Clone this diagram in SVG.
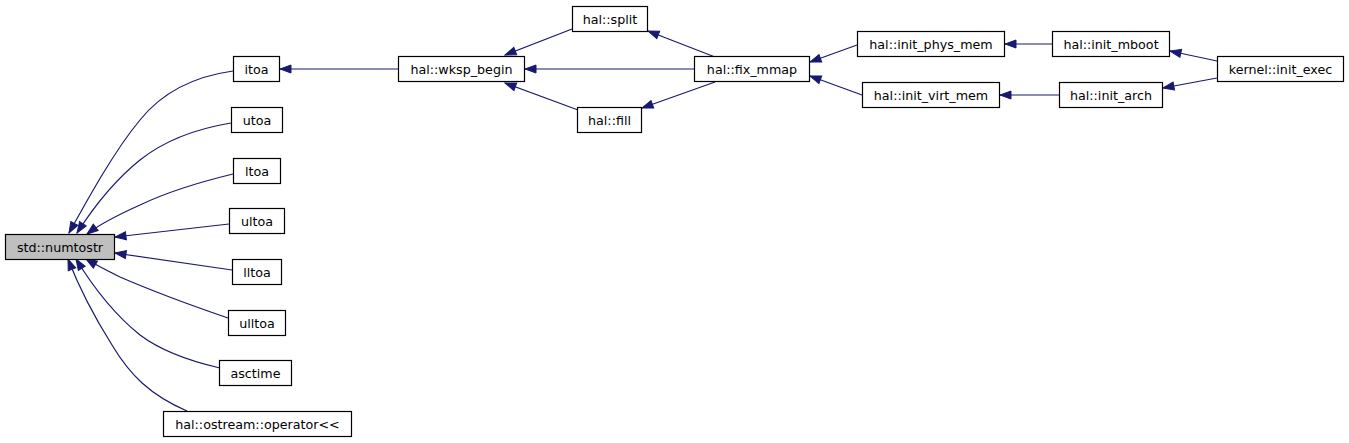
<svg xmlns="http://www.w3.org/2000/svg" width="1349" height="443" viewBox="0 0 1349 443">
<style>
  .node rect { fill: #ffffff; stroke: #000000; stroke-width: 1.2; }
  .node.root rect { fill: #bfbfbf; }
  .node text { font-family: "DejaVu Sans", sans-serif; font-size: 12.7px; fill: #000000; text-anchor: middle; }
  #edges path { fill: none; stroke: #191970; stroke-width: 1.2; marker-end: url(#arrow); }
</style>
<defs>
  <marker id="arrow" markerUnits="userSpaceOnUse" markerWidth="14" markerHeight="11" refX="12" refY="5" orient="auto">
    <path d="M1,1 L12,5 L1,9 Z" fill="#191970" stroke="#191970" stroke-width="1"/>
  </marker>
</defs>
<rect width="1349" height="443" fill="#ffffff"/>
<g id="edges">
  <path d="M398,69 L280,69"/>
  <path d="M572,29 L505,55"/>
  <path d="M694,69 L525,69"/>
  <path d="M578,110 L505,83"/>
  <path d="M715,57 L648,31"/>
  <path d="M715,82 L642,108"/>
  <path d="M857,45 L810,62"/>
  <path d="M862,95 L810,76"/>
  <path d="M1052,44 L1005,44"/>
  <path d="M1059,95 L1000,95"/>
  <path d="M1217,61 L1170,51"/>
  <path d="M1217,78 L1163,88"/>
  <path d="M233,71 C190,77 160,95 140,120 C115,150 90,195 69,233"/>
  <path d="M231,123 C195,129 165,140 140,160 C115,180 95,205 77,233"/>
  <path d="M233,174 C200,182 165,193 140,205 C120,214 100,224 87,234"/>
  <path d="M229,224 L115,237"/>
  <path d="M232,270 L115,253"/>
  <path d="M228,318 C190,305 150,290 120,277 C108,271 96,265 86,259"/>
  <path d="M220,368 C185,360 160,350 140,335 C115,315 95,290 76,259"/>
  <path d="M187,411 C150,395 130,375 112,345 C95,318 80,290 68,259"/>
</g>
<g id="n_numtostr" class="node root"><rect x="5.5" y="234.5" width="109" height="25"/><text x="60" y="251.5">std::numtostr</text></g>
<g id="n_itoa" class="node"><rect x="233.5" y="56.5" width="46" height="25"/><text x="256.5" y="73.5">itoa</text></g>
<g id="n_utoa" class="node"><rect x="231.5" y="107.5" width="51" height="25"/><text x="257" y="124.5">utoa</text></g>
<g id="n_ltoa" class="node"><rect x="233.5" y="158.5" width="47" height="25"/><text x="257" y="175.5">ltoa</text></g>
<g id="n_ultoa" class="node"><rect x="229.5" y="208.5" width="55" height="25"/><text x="257" y="225.5">ultoa</text></g>
<g id="n_lltoa" class="node"><rect x="232.5" y="259.5" width="49" height="25"/><text x="257" y="276.5">lltoa</text></g>
<g id="n_ulltoa" class="node"><rect x="228.5" y="310.5" width="57" height="25"/><text x="257" y="327.5">ulltoa</text></g>
<g id="n_asctime" class="node"><rect x="219.5" y="360.5" width="72" height="25"/><text x="255.5" y="377.5">asctime</text></g>
<g id="n_operator" class="node"><rect x="163.5" y="411.5" width="188" height="25"/><text x="257.5" y="428.5">hal::ostream::operator&lt;&lt;</text></g>
<g id="n_wksp_begin" class="node"><rect x="398.5" y="56.5" width="126" height="25"/><text x="461.5" y="73.5">hal::wksp_begin</text></g>
<g id="n_split" class="node"><rect x="572.5" y="6.5" width="75" height="25"/><text x="610" y="23.5">hal::split</text></g>
<g id="n_fix_mmap" class="node"><rect x="694.5" y="56.5" width="115" height="25"/><text x="752" y="73.5">hal::fix_mmap</text></g>
<g id="n_fill" class="node"><rect x="577.5" y="107.5" width="64" height="25"/><text x="609.5" y="124.5">hal::fill</text></g>
<g id="n_init_phys_mem" class="node"><rect x="857.5" y="31.5" width="147" height="25"/><text x="931" y="48.5">hal::init_phys_mem</text></g>
<g id="n_init_virt_mem" class="node"><rect x="862.5" y="82.5" width="137" height="25"/><text x="931" y="99.5">hal::init_virt_mem</text></g>
<g id="n_init_mboot" class="node"><rect x="1052.5" y="31.5" width="117" height="25"/><text x="1111" y="48.5">hal::init_mboot</text></g>
<g id="n_init_arch" class="node"><rect x="1059.5" y="82.5" width="103" height="25"/><text x="1111" y="99.5">hal::init_arch</text></g>
<g id="n_init_exec" class="node"><rect x="1217.5" y="56.5" width="126" height="25"/><text x="1280.5" y="73.5">kernel::init_exec</text></g>
</svg>
